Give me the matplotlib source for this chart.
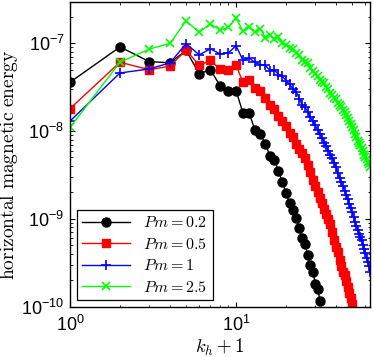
import numpy as np
import matplotlib
matplotlib.use("Agg")
import matplotlib.pyplot as plt
from matplotlib.ticker import LogLocator, NullFormatter

plt.rcParams['font.family'] = ['Liberation Sans', 'DejaVu Sans']
plt.rcParams['mathtext.fontset'] = 'cm'

# k_h + 1 values
k_black = list(range(1, 33))
k_red = list(range(1, 51))
k_blue = list(range(1, 65))
k_green = list(range(1, 65))

E_pm02 = [3.6e-8, 9.1e-8, 6.2e-8, 6.0e-8, 8.3e-8, 4.5e-8, 5.0e-8, 3.3e-8, 2.9e-8, 2.9e-8,
          1.6e-8, 1.6e-8, 1.02e-8, 9.3e-9, 7.2e-9, 5.2e-9, 4.7e-9, 3.5e-9, 2.6e-9, 1.97e-9,
          1.5e-9, 1.26e-9, 1.02e-9, 7.8e-10, 6.0e-10, 5.1e-10, 3.9e-10, 2.95e-10, 2.5e-10, 1.8e-10,
          1.6e-10, 1.16e-10]

E_pm05 = [1.8e-8, 6.1e-8, 5.0e-8, 5.5e-8, 8.4e-8, 5.6e-8, 6.4e-8, 5.1e-8, 5.0e-8, 5.6e-8,
          3.6e-8, 3.8e-8, 3.06e-8, 2.9e-8, 2.4e-8, 1.96e-8, 1.77e-8, 1.47e-8, 1.29e-8, 1.13e-8,
          9.4e-9, 8.5e-9, 7.2e-9, 6.2e-9, 5.6e-9, 4.9e-9, 4.1e-9, 3.4e-9, 2.8e-9, 2.35e-9,
          2.0e-9, 1.71e-9, 1.5e-9, 1.29e-9, 1.13e-9, 9.9e-10, 8.7e-10, 7.1e-10, 5.75e-10, 4.8e-10,
          4.2e-10, 3.4e-10, 2.9e-10, 2.5e-10, 2.3e-10, 1.95e-10, 1.66e-10, 1.41e-10, 1.26e-10, 1.07e-10]

E_pm1 = [1.3e-8, 4.6e-8, 5.1e-8, 6.0e-8, 9.9e-8, 7.4e-8, 8.65e-8, 7.6e-8, 7.8e-8, 9.4e-8,
         6.4e-8, 6.8e-8, 6.05e-8, 5.7e-8, 5.6e-8, 4.9e-8, 5.0e-8, 4.4e-8, 4.2e-8, 3.77e-8,
         3.4e-8, 3.05e-8, 2.8e-8, 2.35e-8, 2.0e-8, 1.86e-8, 1.67e-8, 1.43e-8, 1.29e-8, 1.16e-8,
         1.02e-8, 9.2e-9, 8.3e-9, 7.4e-9, 6.7e-9, 6.0e-9, 5.4e-9, 4.9e-9, 4.3e-9, 3.86e-9,
         3.3e-9, 2.9e-9, 2.6e-9, 2.35e-9, 2.1e-9, 1.86e-9, 1.67e-9, 1.47e-9, 1.32e-9, 1.19e-9,
         1.05e-9, 9.1e-10, 8.2e-10, 7.4e-10, 6.7e-10, 6.2e-10, 5.7e-10, 5.0e-10, 4.5e-10, 4.1e-10,
         3.56e-10, 3.2e-10, 2.9e-10, 2.45e-10]

E_pm25 = [1.1e-8, 6.1e-8, 8.6e-8, 1.0e-7, 1.8e-7, 1.34e-7, 1.67e-7, 1.42e-7, 1.52e-7, 1.95e-7,
          1.37e-7, 1.55e-7, 1.33e-7, 1.47e-7, 1.16e-7, 1.26e-7, 1.13e-7, 1.19e-7, 1.02e-7, 9.7e-8,
          8.95e-8, 8.7e-8, 7.85e-8, 7.3e-8, 6.5e-8, 6.2e-8, 5.9e-8, 5.3e-8, 4.9e-8, 4.5e-8,
          4.2e-8, 3.87e-8, 3.67e-8, 3.5e-8, 3.14e-8, 2.98e-8, 2.75e-8, 2.55e-8, 2.4e-8, 2.3e-8,
          2.1e-8, 2.0e-8, 1.86e-8, 1.72e-8, 1.63e-8, 1.51e-8, 1.4e-8, 1.29e-8, 1.19e-8, 1.1e-8,
          1.02e-8, 9.2e-9, 8.5e-9, 7.8e-9, 7.4e-9, 6.9e-9, 6.35e-9, 5.9e-9, 5.4e-9, 5.0e-9,
          4.8e-9, 4.4e-9, 4.2e-9, 3.86e-9]

labels = [r'$Pm = 0.2$', r'$Pm = 0.5$', r'$Pm = 1$', r'$Pm = 2.5$']

fig = plt.figure(figsize=(3.74, 3.57), dpi=100)
ax = fig.add_axes([70/374, 1 - 306.5/357, 300/374, 305/357])

ax.plot(k_black, E_pm02, '-o', color='k', lw=1, ms=6.5, label=labels[0])
ax.plot(k_red, E_pm05, '-s', color='#ff0000', lw=1, ms=6, label=labels[1])
ax.plot(k_blue, E_pm1, '-+', color='#0000ff', lw=1, ms=7.5, mew=1.2, label=labels[2])
ax.plot(k_green, E_pm25, '-x', color='#00ff00', lw=1, ms=5.5, mew=1.2, label=labels[3])

ax.set_xscale('log')
ax.set_yscale('log')
ax.set_xlim(1, 64)
ax.set_ylim(1e-10, 3e-7)

ax.xaxis.set_major_locator(LogLocator(base=10, numticks=10))
ax.yaxis.set_major_locator(LogLocator(base=10, numticks=10))
ax.xaxis.set_minor_locator(LogLocator(base=10, subs=np.arange(2, 10), numticks=20))
ax.yaxis.set_minor_locator(LogLocator(base=10, subs=np.arange(2, 10), numticks=20))
ax.xaxis.set_minor_formatter(NullFormatter())
ax.yaxis.set_minor_formatter(NullFormatter())

ax.tick_params(which='both', direction='in', top=True, right=True, labelsize=13)
ax.tick_params(which='major', length=3.5, width=0.8)
ax.tick_params(axis='x', which='major', pad=6)
ax.tick_params(axis='y', which='major', pad=4)
ax.tick_params(which='minor', length=1.8, width=0.6)
for s in ax.spines.values():
    s.set_linewidth(1.0)

ax.set_xlabel(r'$k_h + 1$', fontsize=13.5)
ax.xaxis.set_label_coords(0.5, -0.1)
ax.set_ylabel(r'$\mathrm{horizontal\ magnetic\ energy}$', fontsize=14)
ax.yaxis.set_label_coords(-0.165, 0.466)

leg = ax.legend(loc='lower left', bbox_to_anchor=(0.023, 0.021), borderaxespad=0,
                fontsize=11.5, handlelength=3, frameon=True, fancybox=False,
                edgecolor='k', framealpha=1, labelspacing=0.4, borderpad=0.35)
leg.get_frame().set_linewidth(0.9)

fig.savefig('out.png', dpi=100)
